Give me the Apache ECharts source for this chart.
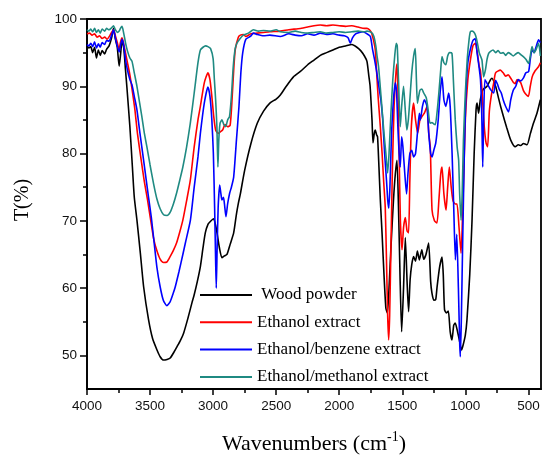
<!DOCTYPE html>
<html><head><meta charset="utf-8">
<script src="https://cdn.jsdelivr.net/npm/echarts@6/dist/echarts.min.js"></script>
<style>html,body{margin:0;padding:0;background:#fff}#c{width:542px;height:455px}</style>
</head><body><div id="c"></div>
<script>
const seriesNames = ['Wood powder', 'Ethanol extract', 'Ethanol/benzene extract', 'Ethanol/methanol extract'];
const seriesColors = ['#000000', '#ff0000', '#0000ff', '#1f8a82'];
const xMajorTicks = [500, 1000, 1500, 2000, 2500, 3000, 3500, 4000];
const xMinorTicks = [750, 1250, 1750, 2250, 2750, 3250, 3750];
const yMajorTicks = [50, 60, 70, 80, 90, 100];
const yMinorTicks = [55, 65, 75, 85, 95];

// [wavenumber, T%]
const wood = [[4000,96.0],[3985,95.7],[3970,95.9],[3955,95.0],[3940,95.8],[3925,94.2],[3910,95.4],[3895,94.6],[3880,95.3],[3860,94.8],[3845,95.5],[3825,96.0],[3805,97.2],[3790,98.6],[3775,97.0],[3760,95.8],[3745,93.0],[3735,94.5],[3722,96.8],[3708,95.6],[3695,92.5],[3683,89.7],[3660,84],[3640,78],[3625,73.5],[3604,70.1],[3577,65.2],[3551,60.2],[3512,55.3],[3480,52.5],[3445,50.8],[3420,49.8],[3393,49.3],[3365,49.4],[3340,49.6],[3310,50.5],[3286,51.3],[3260,52.2],[3234,53.3],[3200,55.5],[3168,57.8],[3150,59],[3125,61],[3101,63.2],[3080,66],[3062,68.2],[3040,69.5],[3022,69.9],[2996,70.3],[2980,69.3],[2969,68.2],[2950,66],[2930,64.5],[2910,64.8],[2890,65],[2865,66.5],[2837,68.2],[2815,71],[2800,72.6],[2784,74],[2750,77.5],[2700,81.5],[2650,84.5],[2600,86.3],[2550,87.5],[2500,88.1],[2467,88.7],[2420,90],[2363,91.4],[2308,92.2],[2250,93.2],[2200,93.9],[2150,94.6],[2100,95.0],[2050,95.4],[2000,95.8],[1950,96.0],[1899,96.2],[1860,95.8],[1830,95.3],[1800,94.5],[1780,93.7],[1765,91.5],[1755,90],[1740,85],[1732,81.6],[1722,83],[1714,83.5],[1704,82.8],[1696,82.5],[1685,78],[1674,73.1],[1660,68],[1645,62],[1630,57],[1618,56.3],[1605,60],[1590,66],[1570,73],[1555,77],[1542,79],[1530,72],[1518,62],[1505,53.5],[1490,60],[1476,67.5],[1462,61],[1450,56.5],[1438,61.2],[1425,63.5],[1410,64.7],[1395,64],[1380,65.5],[1365,64.2],[1345,65.7],[1330,64.3],[1312,65],[1291,66.7],[1275,61],[1265,59.3],[1250,58.2],[1235,58.3],[1225,60],[1205,63],[1185,64.6],[1175,62],[1165,56.8],[1150,56.3],[1135,56.6],[1120,53.5],[1106,52.3],[1092,54.5],[1080,54.8],[1065,53.8],[1050,52.5],[1030,50.8],[1018,51.5],[1000,53],[987,55.3],[965,62],[947,70],[930,80],[915,86.5],[907,87.5],[895,86],[881,88],[860,89.5],[828,90],[800,91],[789,91.2],[760,90],[740,88.5],[720,87],[690,85],[671,83.8],[640,82],[604,81],[580,81.3],[560,81.2],[540,81.5],[511,81.3],[484,83],[460,84.5],[432,86],[405,88]];

const ethanol = [[4000,97.8],[3980,97.9],[3960,97.6],[3940,97.8],[3920,97.3],[3900,97.5],[3880,97.1],[3860,97.3],[3840,97.0],[3820,97.5],[3805,98],[3790,98.4],[3775,97.5],[3760,96.5],[3745,95.4],[3735,96.5],[3722,97.2],[3708,96.2],[3695,95],[3680,93.6],[3660,91.7],[3640,89.2],[3620,86.5],[3600,83],[3570,79],[3545,75.8],[3520,73.1],[3490,69.5],[3470,67.2],[3445,65.5],[3420,64.3],[3393,63.8],[3365,63.9],[3340,64.7],[3315,65.6],[3290,66.7],[3265,68.3],[3240,70.1],[3210,73],[3181,76],[3150,81],[3120,85],[3101,87],[3070,90.5],[3041,92],[3025,91],[3010,88.5],[2995,85.5],[2980,83.5],[2960,83],[2945,83.2],[2925,83.5],[2905,84.3],[2885,84],[2865,84.2],[2850,88],[2835,93],[2824,95.5],[2800,97.3],[2784,97.6],[2760,97.7],[2740,97.4],[2700,97.8],[2650,97.9],[2600,98],[2550,98.1],[2467,98.2],[2400,98.4],[2308,98.6],[2250,98.8],[2200,99],[2150,99.1],[2100,99],[2050,99.1],[2000,99],[1950,98.9],[1900,99],[1850,98.8],[1800,98.6],[1780,98.6],[1760,98.4],[1745,98],[1730,97],[1714,95.4],[1700,91],[1690,88],[1674,84],[1660,80],[1648,76],[1635,72],[1625,64],[1616,56],[1608,52.3],[1600,56],[1590,66],[1578,78],[1565,87],[1550,92],[1542,93.3],[1535,90],[1525,80],[1515,70],[1502,65.7],[1490,69],[1476,70.5],[1462,68.5],[1450,68.2],[1440,76],[1428,84],[1410,87.5],[1395,85],[1378,83],[1360,85],[1344,85.5],[1325,86],[1304,87],[1290,83],[1278,81],[1264,71.6],[1245,70],[1225,69.7],[1210,73],[1195,77],[1185,78],[1170,74],[1153,71.6],[1140,75],[1127,78],[1112,75],[1098,73],[1080,72.5],[1066,72.5],[1050,69],[1034,65.2],[1020,72],[1000,85],[980,91],[960,93.9],[940,96],[921,96.4],[905,95],[890,93],[880,92.3],[868,89.4],[850,84],[835,81.5],[823,81],[810,86.2],[795,88.5],[775,90.5],[760,92],[722,92.4],[700,92],[680,91.5],[660,91.7],[640,91.2],[620,90.6],[604,90.4],[590,91],[575,90.8],[560,90.5],[540,89.4],[520,88.8],[500,88.5],[485,90],[470,91.4],[450,92.2],[420,92.9],[405,93.5]];

const benzene = [[4000,96.2],[3985,96.0],[3970,96.4],[3955,95.9],[3940,96.6],[3925,95.7],[3910,96.3],[3895,95.8],[3880,96.5],[3860,96.2],[3845,96.8],[3825,96.7],[3805,97.6],[3790,98.4],[3775,97.2],[3760,96],[3745,95.1],[3735,96],[3722,97],[3708,96],[3695,94],[3680,92.5],[3660,91],[3643,90.2],[3625,88.5],[3604,86.5],[3580,83],[3551,79],[3530,76],[3512,73.5],[3490,70.5],[3472,67.5],[3445,63],[3420,60.2],[3395,58.2],[3367,57.4],[3340,58],[3315,59.3],[3300,60.2],[3270,62.5],[3240,65],[3220,66.7],[3180,70.1],[3150,75],[3120,79.5],[3101,83],[3070,87.5],[3041,89.9],[3025,88.5],[3010,85],[2998,80],[2988,72],[2980,64],[2975,60],[2968,66],[2960,72],[2948,75.3],[2938,74],[2930,73.1],[2918,73.5],[2910,72.5],[2898,70.6],[2885,72.5],[2869,74.1],[2855,75],[2837,76.5],[2815,82],[2795,87],[2780,92],[2765,95],[2740,97],[2705,97.4],[2680,97.9],[2650,97.7],[2600,97.5],[2550,97.6],[2467,97.4],[2400,97.8],[2350,97.6],[2300,97.5],[2250,97.8],[2200,97.6],[2150,97.9],[2100,97.7],[2050,97.8],[2000,97.6],[1960,97.5],[1930,97.2],[1912,96.4],[1895,97.2],[1870,97.8],[1840,98],[1810,98.1],[1780,97.8],[1753,97.4],[1735,95.4],[1720,94],[1705,92.4],[1690,90.5],[1670,88],[1655,85],[1640,80],[1625,76],[1615,73],[1607,71.9],[1598,75],[1585,83],[1570,88],[1555,90.5],[1545,89],[1535,84],[1525,80],[1516,78],[1505,82.5],[1495,81],[1480,77],[1466,74],[1455,77],[1440,80],[1425,80.5],[1410,79.5],[1395,80],[1380,83],[1365,86],[1357,85],[1340,87],[1325,88],[1304,87],[1290,83],[1275,80],[1264,79.5],[1250,80.5],[1235,81.5],[1215,85],[1200,89],[1185,91.4],[1170,88],[1155,87],[1132,89],[1120,87],[1105,80],[1092,72],[1079,64.2],[1068,68],[1055,60],[1045,52],[1040,49.8],[1032,55],[1020,68],[1008,80],[995,89],[980,93.5],[960,95.5],[940,96.8],[921,97.1],[907,95],[895,93.4],[880,91],[870,86],[862,78],[855,85],[845,91],[830,90.5],[815,90],[800,89.5],[775,89],[760,90.9],[745,90.3],[730,89.5],[715,89],[700,88],[680,87],[657,86.2],[640,88],[620,89.4],[600,90],[580,91],[560,90.8],[540,91.2],[520,92],[498,92.2],[485,94],[471,95.4],[455,95],[440,95.8],[419,96.9],[405,96.5]];

const methanol = [[4000,98.4],[3985,98.2],[3970,98.5],[3955,98.1],[3940,98.6],[3925,98.0],[3910,98.4],[3895,97.9],[3880,98.5],[3860,98.2],[3845,98.6],[3825,98.4],[3805,98.7],[3790,99.0],[3775,98.4],[3760,98.0],[3745,98.2],[3735,98.6],[3722,98.9],[3708,97.8],[3695,96.5],[3680,95.3],[3660,94.2],[3643,93.7],[3625,92],[3604,90],[3585,87.8],[3565,85.5],[3545,83],[3525,81],[3500,78.3],[3472,75.5],[3445,73.2],[3420,71.8],[3393,70.9],[3365,70.8],[3340,71.3],[3315,72.5],[3290,74.1],[3265,76],[3240,78],[3210,81],[3181,84.5],[3150,89],[3120,93.5],[3101,95.4],[3080,95.8],[3060,96],[3041,95.9],[3020,95.6],[3000,94.1],[2990,91],[2980,88],[2970,84],[2962,78],[2955,82],[2945,84.5],[2930,85],[2915,84.3],[2900,84],[2885,85],[2870,85.5],[2855,88.5],[2840,93],[2825,95.6],[2811,96.4],[2790,97],[2760,97.6],[2720,97.9],[2680,98.4],[2640,98.2],[2600,98.3],[2550,98.2],[2500,98.4],[2467,98.1],[2400,98],[2350,98.2],[2300,98],[2250,97.9],[2200,98],[2150,98.1],[2100,97.9],[2050,98],[2000,98.1],[1950,98],[1900,98.1],[1850,98.2],[1800,98.1],[1780,98.2],[1745,98],[1725,97.4],[1710,96],[1700,94.5],[1688,92.9],[1675,90],[1660,86.5],[1645,83],[1630,80],[1616,77.1],[1605,80],[1590,86],[1575,91],[1560,94.5],[1548,96.4],[1540,96],[1530,91],[1516,84],[1505,87],[1490,90],[1478,87],[1464,83.5],[1452,85],[1440,88],[1425,92],[1410,94.5],[1397,95.6],[1388,91],[1380,87.5],[1370,88.5],[1360,89.4],[1345,89.6],[1330,89],[1310,88.3],[1295,86.5],[1280,84.5],[1265,84.6],[1250,84.4],[1238,84.3],[1225,86],[1210,89],[1195,92.5],[1185,94.4],[1170,93.5],[1155,93.2],[1140,94.5],[1125,95],[1106,94.9],[1095,91],[1080,85],[1065,81],[1053,79],[1045,74],[1034,70.1],[1025,74],[1015,82],[1000,89],[985,94],[970,97],[960,98.1],[945,98.2],[930,98],[918,97.5],[905,96.5],[890,95],[880,94.5],[868,93.9],[855,91.4],[840,92.5],[828,94],[815,94.9],[800,95.2],[780,95.4],[760,95],[740,95.3],[720,94.9],[700,95],[680,94.6],[660,95],[640,94.8],[620,94.5],[600,94.8],[580,95],[560,94.7],[540,94.4],[520,94],[498,93.4],[485,94.5],[471,95.9],[455,95],[440,95.4],[419,96.4],[405,94.5]];

const seriesData = [wood, ethanol, benzene, methanol];

const chart = echarts.init(document.getElementById('c'), null, {renderer: 'canvas'});
const labelFont = {color: '#111', fontSize: 13.5, fontFamily: 'Liberation Sans, Arial, sans-serif', formatter: function (v) { return String(v); }};
const blackLine = {color: '#000', width: 1.5};

const option = {
  animation: false,
  backgroundColor: '#fff',
  grid: {left: 87, right: 1, top: 19, bottom: 66, show: true, borderColor: '#000', borderWidth: 1.8, backgroundColor: 'transparent', outerBoundsMode: 'none', containLabel: false},
  legend: {
    data: seriesNames,
    orient: 'vertical',
    left: 200, top: 285, padding: 0,
    icon: 'rect', itemWidth: 52, itemHeight: 2, itemGap: 7.3,
    selectedMode: false,
    formatter: function (n) { return n === 'Wood powder' ? ' ' + n : n; },
    textStyle: {fontFamily: 'Liberation Serif, Times New Roman, serif', fontSize: 17, color: '#000', lineHeight: 20}
  },
  xAxis: [{
    type: 'value', inverse: true, min: 400, max: 4000, position: 'bottom',
    splitLine: {show: false},
    axisLine: {lineStyle: blackLine},
    axisTick: {customValues: xMajorTicks, length: 6, lineStyle: blackLine},
    axisLabel: Object.assign({customValues: xMajorTicks, margin: 10}, labelFont),
    name: '{a|Wavenumbers (cm}{b|-1}{a|)}',
    nameLocation: 'middle', nameGap: 41,
    nameTextStyle: {rich: {
      a: {fontFamily: 'Liberation Serif, Times New Roman, serif', fontSize: 22, color: '#000', lineHeight: 28},
      b: {fontFamily: 'Liberation Serif, Times New Roman, serif', fontSize: 14, color: '#000', lineHeight: 11, verticalAlign: 'top'}
    }}
  }, {
    type: 'value', inverse: true, min: 400, max: 4000, position: 'bottom',
    splitLine: {show: false}, axisLine: {show: false},
    axisTick: {customValues: xMinorTicks, length: 4, lineStyle: blackLine},
    axisLabel: {show: false}
  }],
  yAxis: [{
    type: 'value', min: 45, max: 100, position: 'left',
    splitLine: {show: false},
    axisLine: {show: true, lineStyle: blackLine},
    axisTick: {show: true, customValues: yMajorTicks, length: 7, lineStyle: blackLine},
    axisLabel: Object.assign({customValues: yMajorTicks, margin: 10}, labelFont),
    name: 'T(%)', nameLocation: 'middle', nameGap: 54,
    nameTextStyle: {fontFamily: 'Liberation Serif, Times New Roman, serif', fontSize: 20, color: '#000', padding: [0, 0, 0, 8]}
  }, {
    type: 'value', min: 45, max: 100, position: 'left',
    splitLine: {show: false}, axisLine: {show: false},
    axisTick: {show: true, customValues: yMinorTicks, length: 4, lineStyle: blackLine},
    axisLabel: {show: false}
  }],
  series: seriesNames.map((name, i) => ({
    name: name, type: 'line', xAxisIndex: 0, yAxisIndex: 0,
    data: seriesData[i], symbol: 'none', showSymbol: false,
    smooth: 0.2, color: seriesColors[i],
    lineStyle: {color: seriesColors[i], width: 1.6},
    z: 2 + i
  }))
};
chart.setOption(option);
</script>
</body></html>
